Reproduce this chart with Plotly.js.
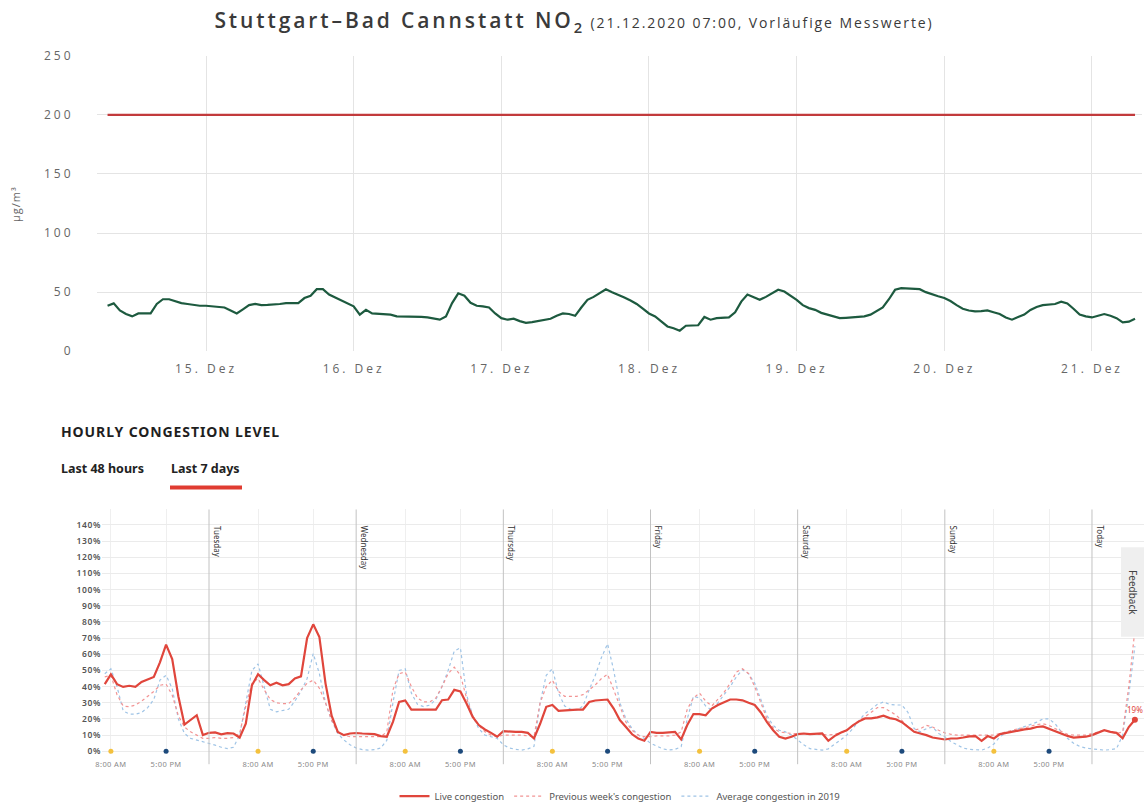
<!DOCTYPE html>
<html>
<head>
<meta charset="utf-8">
<script src="https://cdn.plot.ly/plotly-3.0.1.min.js"></script>
<style>
html,body{margin:0;padding:0;background:#fff;}
#chart{width:1144px;height:811px;}
</style>
</head>
<body>
<div id="chart"></div>
<script>
// ---------- NO2 chart data (hourly, from 14.12.2020 08:00) ----------
const no2Start = '2020-12-14T08:00:00';
const no2Values = [
  38.5,40.5,34.5,31.5,29.5,32,32,32,40,44,44,42.5,40.7,40,39.3,38.5,
  38.5,38,37.5,37,34.5,32,35.5,39,40,39,39.2,39.3,40,40.7,40.7,40.7,
  45,47,52.5,52.5,48,45.5,43,40.5,38,31,35,32,31.7,31.3,31,29.5,
  29.5,29.5,29.5,29,28.6,27.5,26.7,29.5,40.7,49,47,41,38.5,38,37,32,
  28,26.7,27.5,25.5,24,24.7,25.8,26.7,27.5,30,32,31.5,30,37,43.5,46,
  49,52.5,50,48,45.5,43,40,36,32,29.5,25,21,19.5,17.4,21.6,21.6,
  22,29,26.7,28,28.3,28.6,33,42,48,46,43.5,46,49,52,50.5,47,
  43.5,39,36.5,35,32.5,31,29.5,28,28.3,28.6,28.6,29.5,31,34,37,44,
  52,53.4,53,52.8,52.5,50,48,46.5,45,42.5,39,36,34.5,33.7,34,34.5,
  33,31.5,28.5,26.7,29,31,35,37.5,39,39.2,40,42,40.5,36,31,29.5,
  28.6,30,31.5,30,28,24.5,25,27.5
];
const no2Limit = 200;
const no2DayTicks = ['2020-12-15','2020-12-16','2020-12-17','2020-12-18','2020-12-19','2020-12-20','2020-12-21'];
const no2DayLabels = ['15. Dez','16. Dez','17. Dez','18. Dez','19. Dez','20. Dez','21. Dez'];
const no2YTicks = [0,50,100,150,200,250];

// ---------- Congestion chart data (hourly, from Monday 14.12.2020 07:00) ----------
const congStart = '2020-12-14T07:00:00';
const liveCongestion = [
  41.5,47.6,41.5,39.8,40.5,39.8,42.9,44.5,46,55,66,57,34,16.5,19.6,22.3,
  10,11.4,11.7,10.5,11.2,11,8.5,17,40.8,47.6,44,40.8,42.4,40.8,41.5,45,
  46.3,70,78.5,70.7,42,22,12,10,11,11.3,11,11,10.6,9.4,9,18.2,
  30.5,31.4,25.8,25.8,25.8,25.8,25.8,31.6,32,38,37,29.5,21.3,16.2,13.5,11.4,
  9,12.4,12,12,12,11.4,7.9,17,27.5,28.6,25,25.3,25.8,25.8,25.8,30.5,
  31.4,31.8,32,26.4,19.3,15,10.5,7.9,6.5,12,11.4,11.4,11.7,12,7.3,16.2,
  23,23,22.3,26.4,28.6,30.5,32,32,31.5,30,28.6,24,18,13,9,7.9,
  9,10.6,11,10.6,10.6,11,6.5,9.4,11.4,13,16,18.5,20.3,20.3,21,22,
  20.5,19.8,18,15,12,11,10,8.5,7.9,7.3,7.9,7.9,8.5,9.2,9.4,6.5,
  9.4,7.9,10.6,11.4,12,13,13.5,14,15,15.4,14,12.2,11,9.5,8.5,8.8,
  9,10,11.4,13,12,11.4,8,15,19.5
];
const prevWeekCongestion = [
  46,47,35,28,27.5,28.6,31,34,37,40.8,41.5,34.7,22,15,12,10,
  8,8,8.5,8,8,8.5,11,28,42,45,38,32,30,29.5,29.5,33,
  38,42,44,39,30,19,12,10,9,9,9,9,9,9,12,38,
  48,49,40,33,30.5,30.5,33,40,48,52,47,33,22,16,12,10,
  9,10,10,10,10,9.5,9,30,40,44,37,34,33.9,34,35,38,
  41,45,47.6,38,28,18,13,10,9,9,9.5,9.5,9.5,10,12,26,
  33,36,31,28,32,36.5,42,49,51,48,40,30,20,14.5,12,11.4,
  11,10.5,10.5,10.5,10.5,10.5,10,10.5,11.5,13,16,19,21.3,24,27,27,
  25,22.5,19,15,13,14,16,15,13,11.4,10.5,10,10,10,10,10,
  10,10,11,12,13,14,14.5,15.5,16.5,17,16,14,12,10.5,10,10,
  10,11,12,13,12,11,12,40,75
];
const avg2019Congestion = [
  48,51,40,25,23,22.9,24,27,32,44,47,38.8,20,11,8,7,
  6,5,3.8,2.5,1.7,2.5,10,30,50,54,40,26,24.4,25,26,31,
  37,45,60.4,48,30,19,11,7,4,2,1,0.7,1,2,6.8,30,
  50,51,36,29,27.6,28.5,32,40,50,62,64,35,22,14,10,9,
  8,4,2,1.2,0.7,1.5,3,30,47,51,36,28,26,25.4,28,38,
  47,58,66.5,50,30,20,14,10,7.9,5,3,1.5,0.8,1.2,2.8,20,
  34,33,28,25.4,30,35,40,46,50.4,48,42,32,22,16,13,12,
  10,7,4,1.6,1,0.7,1.5,4,7,10,14,19,23.4,26,29,30.5,
  29,28.6,28.6,24,14,12,14,15,11,9,6,4,2,1.2,0.9,0.7,
  2,4.5,9,11.5,12.5,14,15,16.5,18,20,20,17,12,8,5,3,
  2,1.5,1,0.7,1,1.6,10,35,65
];
const congSeriesNames = ['Live congestion', "Previous week's congestion", 'Average congestion in 2019'];
const congDayDates = ['2020-12-15','2020-12-16','2020-12-17','2020-12-18','2020-12-19','2020-12-20','2020-12-21'];
const congDayNames = ['Tuesday','Wednesday','Thursday','Friday','Saturday','Sunday','Today'];
const congPeakDays = ['2020-12-14','2020-12-15','2020-12-16','2020-12-17','2020-12-18','2020-12-19','2020-12-20'];
const congPeakHours = ['08:00','17:00'];
const congPeakLabels = ['8:00 AM','5:00 PM'];
const congYTicks = [0,10,20,30,40,50,60,70,80,90,100,110,120,130,140];
const liveLastLabel = '19%';

// ---------- helpers ----------
const W = 1144, H = 811;
const px = v => v / W;           // x pixel -> paper
const py = v => 1 - v / H;       // y pixel -> paper
const spaced = (t, s) => '<span style="letter-spacing:' + s + 'px">' + t + '</span>';
function hourly(start, n) {
  const t0 = Date.parse(start + 'Z');
  return Array.from({length: n}, (_, i) =>
    new Date(t0 + i * 3600e3).toISOString().slice(0, 16).replace('T', ' '));
}

const no2X = hourly(no2Start, no2Values.length);
const congX = hourly(congStart, liveCongestion.length);
const peakX8 = congPeakDays.map(d => d + ' ' + congPeakHours[0]);
const peakX17 = congPeakDays.map(d => d + ' ' + congPeakHours[1]);
const peakTickVals = [], peakTickText = [];
congPeakDays.forEach(d => congPeakHours.forEach((h, i) => {
  peakTickVals.push(d + ' ' + h); peakTickText.push(spaced(congPeakLabels[i], 0.4));
}));

const traces = [
  {x: no2X, y: no2Values, type: 'scatter', mode: 'lines', xaxis: 'x', yaxis: 'y',
   line: {color: '#1d5a3f', width: 2.2}, showlegend: false, hoverinfo: 'skip'},
  {x: [no2X[0], no2X[no2X.length - 1]], y: [no2Limit, no2Limit], type: 'scatter', mode: 'lines',
   xaxis: 'x', yaxis: 'y', line: {color: '#c23a3c', width: 2.2}, showlegend: false, hoverinfo: 'skip'},
  {x: congX, y: avg2019Congestion, name: congSeriesNames[2], type: 'scatter', mode: 'lines',
   xaxis: 'x2', yaxis: 'y2', line: {color: '#9fc4e6', width: 1.2, dash: 'dot'}, legendrank: 3},
  {x: congX, y: prevWeekCongestion, name: congSeriesNames[1], type: 'scatter', mode: 'lines',
   xaxis: 'x2', yaxis: 'y2', line: {color: '#f29494', width: 1.2, dash: 'dot'}, legendrank: 2},
  {x: congX, y: liveCongestion, name: congSeriesNames[0], type: 'scatter', mode: 'lines',
   xaxis: 'x2', yaxis: 'y2', line: {color: '#e0463c', width: 2.2}, legendrank: 1},
  {x: [congX[congX.length - 1]], y: [liveCongestion[liveCongestion.length - 1]], type: 'scatter',
   mode: 'markers+text', text: [liveLastLabel], textposition: 'top center',
   textfont: {size: 8, color: '#e0463c', family: 'Noto Sans'},
   xaxis: 'x2', yaxis: 'y2', marker: {color: '#e0463c', size: 6}, showlegend: false, cliponaxis: false},
  {x: peakX8, y: peakX8.map(() => 0), type: 'scatter', mode: 'markers', xaxis: 'x2', yaxis: 'y2',
   marker: {color: '#f4c13d', size: 5}, showlegend: false, cliponaxis: false},
  {x: peakX17, y: peakX17.map(() => 0), type: 'scatter', mode: 'markers', xaxis: 'x2', yaxis: 'y2',
   marker: {color: '#1d4a7c', size: 5}, showlegend: false, cliponaxis: false}
];

const shapes = congDayDates.map(d => ({
  type: 'line', xref: 'x2', yref: 'paper', x0: d, x1: d, y0: py(768), y1: py(512),
  line: {color: '#c2c2c2', width: 1}
}));
shapes.push({type: 'line', xref: 'paper', yref: 'paper', x0: px(170), x1: px(242), y0: py(490), y1: py(490),
  line: {color: '#e03c31', width: 4}});
shapes.push({type: 'rect', xref: 'paper', yref: 'paper', x0: px(1121), x1: px(1150), y0: py(640), y1: py(550),
  fillcolor: '#efefef', line: {width: 0}, layer: 'above'});

const annotations = congDayNames.map((n, i) => ({
  xref: 'x2', yref: 'paper', x: congDayDates[i], y: py(526), xshift: 1, text: n, textangle: 90,
  xanchor: 'left', yanchor: 'top', showarrow: false, font: {size: 8, color: '#333', family: 'Noto Sans'}
}));
annotations.push(
  {xref: 'paper', yref: 'paper', x: px(16), y: py(205), text: spaced('µg/m³', 1), textangle: -90, showarrow: false,
   xanchor: 'center', yanchor: 'middle', font: {size: 11, color: '#666', family: 'Open Sans'}},
  {xref: 'paper', yref: 'paper', x: px(59), y: py(434), xanchor: 'left', yanchor: 'middle',
   text: '<b>' + spaced('HOURLY CONGESTION LEVEL', 0.9) + '</b>',
   showarrow: false, font: {size: 14, color: '#1f1f1f', family: 'Noto Sans'}},
  {xref: 'paper', yref: 'paper', x: px(59), y: py(471), xanchor: 'left', yanchor: 'middle', text: '<b>Last 48 hours</b>',
   showarrow: false, font: {size: 12.5, color: '#222', family: 'Noto Sans'}},
  {xref: 'paper', yref: 'paper', x: px(169), y: py(471), xanchor: 'left', yanchor: 'middle', text: '<b>Last 7 days</b>',
   showarrow: false, font: {size: 12.5, color: '#222', family: 'Noto Sans'}},
  {xref: 'paper', yref: 'paper', x: px(1133), y: py(595), xanchor: 'center', yanchor: 'middle', text: 'Feedback', textangle: 90,
   showarrow: false, font: {size: 10, color: '#444', family: 'Noto Sans'}}
);

const layout = {
  width: W, height: H,
  margin: {l: 0, r: 0, t: 0, b: 0},
  paper_bgcolor: '#fff', plot_bgcolor: '#fff',
  font: {family: 'Open Sans', color: '#666'},
  title: {
    text: spaced('Stuttgart–Bad Cannstatt NO<sub>2</sub>', 2.9) + ' ' +
          '<span style="font-size:14px;font-weight:normal;letter-spacing:1.9px">(21.12.2020 07:00, Vorläufige Messwerte)</span>',
    x: px(574), xanchor: 'center', y: py(21), yanchor: 'middle',
    font: {family: 'Open Sans', size: 21, color: '#3a3a3a', weight: 600}
  },
  xaxis: {
    domain: [px(97), px(1142)], anchor: 'y', type: 'date',
    range: ['2020-12-14 06:17', '2020-12-21 08:08'],
    tickvals: no2DayTicks, ticktext: no2DayLabels.map(t => spaced(t, 3)),
    showgrid: true, gridcolor: '#e4e4e4', gridwidth: 1, zeroline: false, showline: false,
    ticks: 'outside', ticklen: 6, tickcolor: 'rgba(0,0,0,0)',
    tickfont: {size: 12, color: '#666', family: 'Open Sans'}, fixedrange: true
  },
  yaxis: {
    domain: [py(353), py(56)], anchor: 'x', range: [0, 250],
    tickvals: no2YTicks, ticktext: no2YTicks.map(v => spaced(String(v), 3)),
    showgrid: true, gridcolor: '#e4e4e4', zeroline: false, showline: false,
    ticks: 'outside', ticklen: 20, tickcolor: 'rgba(0,0,0,0)',
    tickfont: {size: 12, color: '#666', family: 'Open Sans'}, fixedrange: true
  },
  xaxis2: {
    domain: [px(102), 1], anchor: 'y2', type: 'date',
    range: ['2020-12-14 06:33', '2020-12-21 08:29'],
    tickvals: peakTickVals, ticktext: peakTickText,
    showgrid: true, gridcolor: '#efefef', zeroline: false, showline: false,
    ticks: 'outside', ticklen: 3, tickcolor: 'rgba(0,0,0,0)',
    tickfont: {size: 7.5, color: '#8a8a8a', family: 'Noto Sans'}, fixedrange: true
  },
  yaxis2: {
    domain: [py(758), py(512)], anchor: 'x2', range: [-1.85, 149.54],
    tickvals: congYTicks, ticktext: congYTicks.map(v => spaced(v + '%', 0.6)),
    showgrid: true, gridcolor: '#ebebeb', zeroline: false, showline: false,
    ticks: '', tickfont: {size: 8.5, color: '#555', family: 'Noto Sans', weight: 600}, fixedrange: true
  },
  showlegend: true,
  legend: {
    orientation: 'h', x: px(620), xanchor: 'center', y: py(800), yanchor: 'middle',
    font: {size: 9.5, color: '#555', family: 'Noto Sans'}, itemwidth: 30, traceorder: 'normal',
    bgcolor: 'rgba(0,0,0,0)'
  },
  shapes: shapes,
  annotations: annotations
};

Plotly.newPlot('chart', traces, layout, {displayModeBar: false, staticPlot: true});
</script>
</body>
</html>
